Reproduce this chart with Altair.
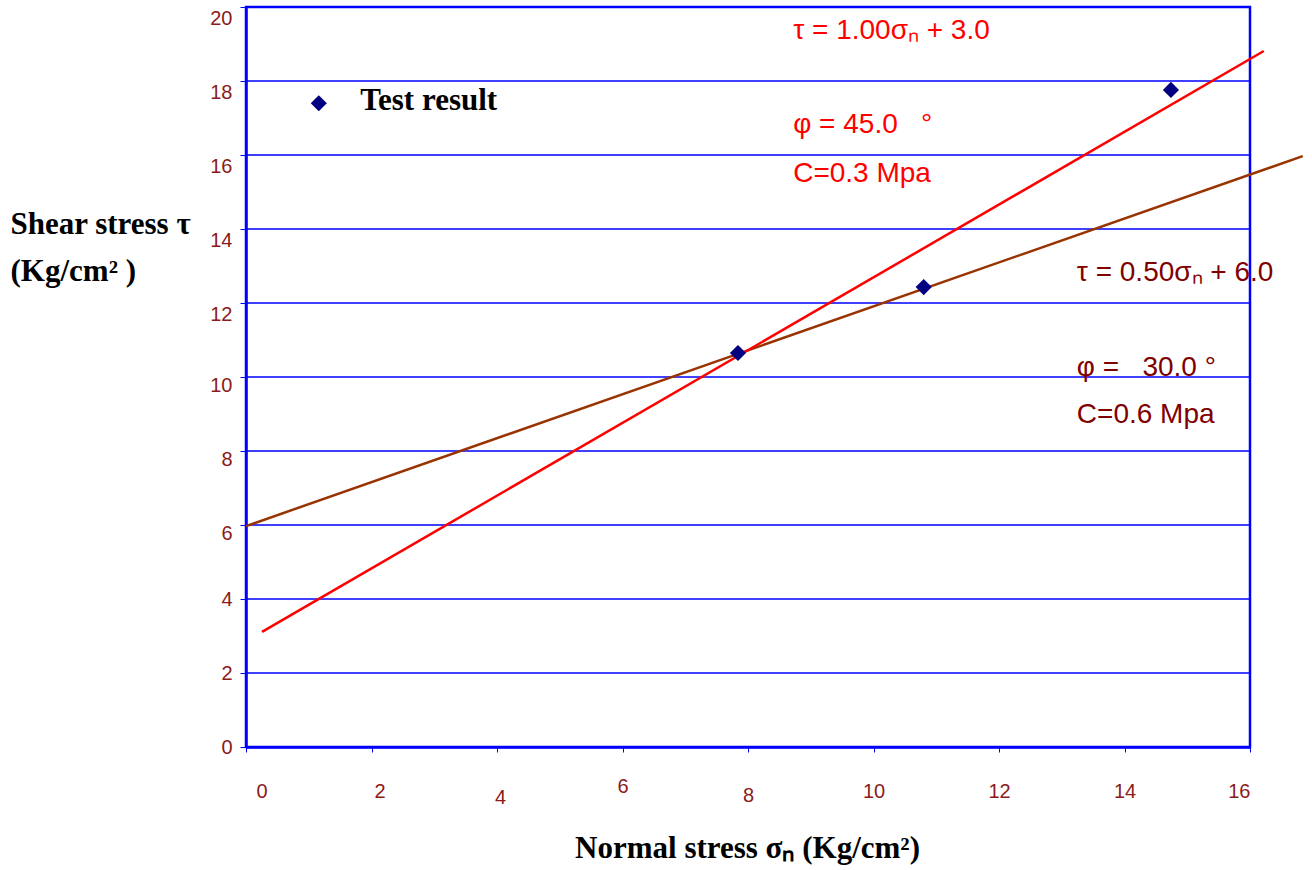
import altair as alt
import pandas as pd

# Data
test_sigma = [7.84, 10.80, 14.74]
test_tau = [10.65, 12.43, 17.76]

red_line_sigma = [0.255, 16.22]
red_line_tau = [3.11, 18.81]

brown_line_sigma = [0.0, 16.84]
brown_line_tau = [5.97, 15.97]

NB = "\u00a0"
red_texts = ["τ = 1.00σₙ + 3.0", "φ = 45.0" + NB * 3 + "°", "C=0.3 Mpa"]
red_text_x = [8.72, 8.72, 8.72]
red_text_y = [19.14, 16.59, 15.27]

brown_texts = ["τ = 0.50σₙ + 6.0", "φ =" + NB * 3 + "30.0 °", "C=0.6 Mpa"]
brown_text_x = [13.24, 13.24, 13.24]
brown_text_y = [12.59, 10.03, 8.76]

legend_label = ["Test result"]
legend_x = [1.16]
legend_y = [17.4]
legend_text_x = [1.82]
legend_text_y = [17.22]

x_ticks = [0, 2, 4, 6, 8, 10, 12, 14, 16]
y_ticks = [0, 2, 4, 6, 8, 10, 12, 14, 16, 18, 20]
grid_values = [2, 4, 6, 8, 10, 12, 14, 16, 18]

BLUE = "#0000ff"
LABEL = "#8b1a1a"

xs = alt.Scale(domain=[0, 16], nice=False)
ys = alt.Scale(domain=[0, 20], nice=False)

x_axis = alt.Axis(
    values=x_ticks, format="d", grid=False,
    labelPadding=alt.ExprRef("datum.value==4 ? 35 : datum.value==6 ? 24 : datum.value==8 ? 33 : 29"),
    labelOffset=alt.ExprRef("datum.value==0 ? 10 : datum.value==2 ? 8 : datum.value==4 ? 3 : 0"),
    title="Normal stress σₙ (Kg/cm²)",
    titleY=110, titleBaseline="alphabetic", titleX=501,
)
y_axis = alt.Axis(
    values=y_ticks, format="d", grid=False,
    labelPadding=8,
    labelOffset=alt.ExprRef("datum.value >= 12 ? 11 : datum.value >= 6 ? 8 : 0"),
    title=["Shear stress τ", "(Kg/cm² )"], titleAngle=0, titleAlign="left",
    titleBaseline="alphabetic", titleX=-236, titleY=226, titleLineHeight=47,
)

X = lambda f: alt.X(f, scale=xs, axis=x_axis)
Y = lambda f: alt.Y(f, scale=ys, axis=y_axis)

pts = pd.DataFrame({"sigma": test_sigma, "tau": test_tau})
red = pd.DataFrame({"sigma": red_line_sigma, "tau": red_line_tau})
brown = pd.DataFrame({"sigma": brown_line_sigma, "tau": brown_line_tau})
rt = pd.DataFrame({"t": red_texts, "sigma": red_text_x, "tau": red_text_y})
bt = pd.DataFrame({"t": brown_texts, "sigma": brown_text_x, "tau": brown_text_y})
lg = pd.DataFrame({"t": legend_label, "sigma": legend_x, "tau": legend_y})
lgt = pd.DataFrame({"t": legend_label, "sigma": legend_text_x, "tau": legend_text_y})
gd = pd.DataFrame({"tau": grid_values})

base_pts = alt.Chart(pts).mark_point(
    shape="diamond", filled=True, color="#000080", size=260, opacity=1
).encode(x=X("sigma:Q"), y=Y("tau:Q"))

grid = alt.Chart(gd).mark_rule(color=BLUE, strokeWidth=1.3, opacity=1).encode(
    y=Y("tau:Q"))

red_line = alt.Chart(red).mark_line(color="#ff0000", strokeWidth=2.5, clip=False).encode(
    x=X("sigma:Q"), y=Y("tau:Q"))
brown_line = alt.Chart(brown).mark_line(color="#993300", strokeWidth=2.5, clip=False).encode(
    x=X("sigma:Q"), y=Y("tau:Q"))

red_txt = alt.Chart(rt).mark_text(
    align="left", baseline="alphabetic", font="Liberation Sans", fontSize=28,
    color="#ff0000").encode(x=X("sigma:Q"), y=Y("tau:Q"), text="t:N")
brown_txt = alt.Chart(bt).mark_text(
    align="left", baseline="alphabetic", font="Liberation Sans", fontSize=28,
    color="#800000").encode(x=X("sigma:Q"), y=Y("tau:Q"), text="t:N")

leg_sym = alt.Chart(lg).mark_point(
    shape="diamond", filled=True, color="#000080", size=260, opacity=1).encode(
    x=X("sigma:Q"), y=Y("tau:Q"))
leg_txt = alt.Chart(lgt).mark_text(
    align="left", baseline="alphabetic", font="Liberation Serif", fontSize=31,
    fontWeight="bold", color="black").encode(
    x=X("sigma:Q"), y=Y("tau:Q"), text="t:N")

chart = alt.layer(
    grid, brown_line, red_line, base_pts, red_txt, brown_txt, leg_sym, leg_txt
).properties(
    width=1004, height=740,
    autosize=alt.AutoSizeParams(type="none"),
    padding={"left": 246, "top": 7, "right": 62, "bottom": 123},
    background="white",
).configure_view(
    stroke=BLUE, strokeWidth=2.5
).configure_axis(
    grid=False,
    domainColor=BLUE, domainWidth=2.5, tickColor=BLUE, tickWidth=1,
    labelColor=LABEL, labelFont="Liberation Sans", labelFontSize=20,
    titleFont="Liberation Serif", titleFontSize=31, titleFontWeight="bold",
    titleColor="black",
).configure_axisX(tickSize=5).configure_axisY(tickSize=6)

chart.save("out.html", embed_options={"renderer": "svg", "actions": False})
